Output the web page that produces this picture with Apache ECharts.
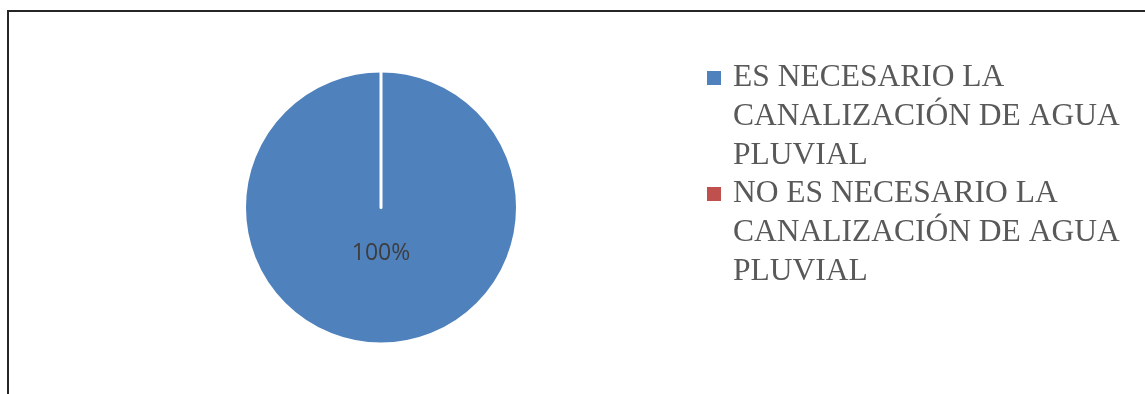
<!DOCTYPE html>
<html>
<head>
<meta charset="utf-8">
<script src="https://cdn.jsdelivr.net/npm/echarts@6/dist/echarts.min.js"></script>
<style>
  html, body { margin: 0; padding: 0; background: #ffffff; overflow: hidden; }
  #frame {
    position: absolute; left: 7px; top: 10px; width: 1300px; height: 600px;
    border-top: 2px solid #262626; border-left: 2px solid #262626;
    box-sizing: border-box;
  }
  #chart { position: absolute; left: 0; top: 0; width: 1145px; height: 394px; }
</style>
</head>
<body>
<div id="frame"></div>
<div id="chart"></div>
<script>
// Answers to the survey question about storm-water channelling
const categories = [
  'ES NECESARIO LA CANALIZACIÓN DE AGUA PLUVIAL',
  'NO ES NECESARIO LA CANALIZACIÓN DE AGUA PLUVIAL'
];
const values = [100, 0];
const colors = ['#4F81BD', '#C0504D'];

const LINE_H = 39;

const chart = echarts.init(document.getElementById('chart'), null, { renderer: 'canvas' });

chart.setOption({
  animation: false,
  color: colors,
  legend: {
    orient: 'vertical',
    left: 707,
    top: 58.5,
    padding: 0,
    itemGap: -1,
    itemWidth: 21,
    itemHeight: LINE_H * 3,
    // square key sitting beside the first line of each wrapped entry
    icon: 'path://M0,12.5H14V26.5H0Z M0,0 M21,117',
    itemStyle: { borderWidth: 0 },
    selectedMode: false,
    textStyle: {
      fontFamily: 'Liberation Serif',
      fontSize: 31.5,
      color: '#595959',
      lineHeight: LINE_H,
      width: 405,
      overflow: 'break'
    },
    data: categories
  },
  series: [{
    type: 'pie',
    center: [381, 207.5],
    radius: 136.5,
    startAngle: 90,
    clockwise: true,
    avoidLabelOverlap: false,
    itemStyle: { borderColor: '#ffffff', borderWidth: 3 },
    label: {
      show: true,
      position: 'inside',
      formatter: '{d}%',
      fontFamily: 'Open Sans',
      fontSize: 23,
      color: '#3d3d3d'
    },
    labelLayout: { dy: -25 },
    labelLine: { show: false },
    emphasis: { disabled: true },
    data: categories.map((name, i) => ({
      name: name,
      value: values[i],
      label: { show: values[i] > 0 }
    }))
  }]
});
</script>
</body>
</html>
